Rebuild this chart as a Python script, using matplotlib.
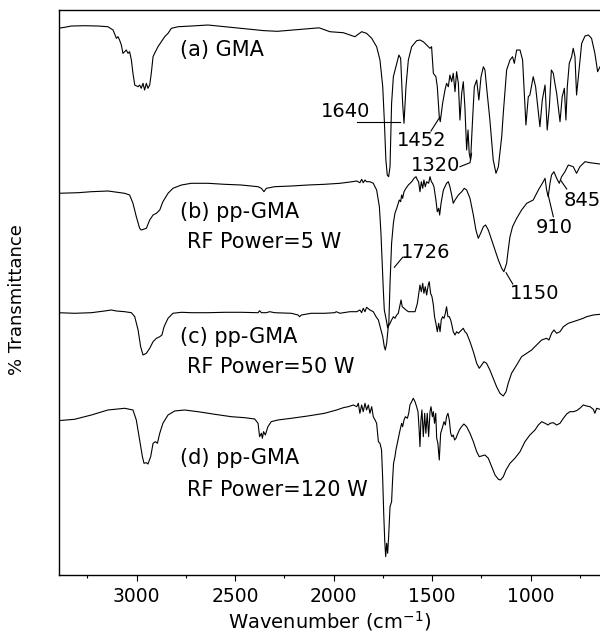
import numpy as np
import matplotlib.pyplot as plt

# FTIR spectra of GMA monomer and plasma polymerized GMA films (offset, a.u.)
wn_a = [3400, 3366, 3332, 3264, 3196, 3146, 3120, 3103, 3095, 3087, 3078, 3070, 3061, 3053, 3044, 3036,
        3027, 3019, 3010, 2993, 2985, 2977, 2968, 2960, 2951, 2943, 2934, 2926, 2917, 2909, 2892, 2875,
        2858, 2841, 2824, 2790, 2723, 2638, 2497, 2356, 2286, 2180, 2074, 2019, 1951, 1917, 1892, 1858,
        1833, 1807, 1782, 1765, 1751, 1743, 1735, 1728, 1721, 1714, 1706, 1697, 1680, 1669, 1660, 1650,
        1643, 1633, 1621, 1604, 1579, 1562, 1545, 1528, 1511, 1503, 1494, 1481, 1474, 1464, 1459, 1447,
        1435, 1427, 1418, 1410, 1401, 1393, 1384, 1376, 1367, 1359, 1350, 1342, 1334, 1325, 1318, 1312,
        1305, 1295, 1286, 1274, 1263, 1252, 1240, 1232, 1224, 1207, 1190, 1176, 1164, 1147, 1139, 1122,
        1105, 1092, 1083, 1071, 1054, 1041, 1034, 1024, 1012, 1004, 987, 975, 966, 953, 941, 927,
        916, 905, 895, 885, 877, 868, 851, 840, 829, 821, 814, 804, 792, 784, 775, 767,
        753, 741, 724, 707, 691, 674, 660, 648]
t_a = [546.7, 547.7, 549, 549.3, 549, 548.3, 545, 536.7, 538.3, 535, 530, 521.7, 523.3, 525, 521.7, 523.3,
       515, 501.7, 490, 488.3, 490, 486.7, 491.7, 485, 491.7, 486.7, 490, 501.7, 518.3, 521.7, 528.3, 533.3,
       538.3, 541.7, 546.7, 548.3, 549, 550, 547.2, 544.4, 543.7, 545.5, 547.2, 543.3, 542.3, 540, 538.3, 543.3,
       541.7, 536.7, 528.3, 515, 488.3, 455, 415, 400, 398.3, 408.3, 471.7, 498.3, 511.7, 520, 516.7, 471.7,
       451.7, 488.3, 515, 528.3, 534.3, 535, 533.3, 530, 526.7, 528.3, 501.7, 498.3, 488.3, 458.3, 453.3, 471.7,
       485, 491.7, 488.3, 500, 493.3, 501.7, 483.3, 503.3, 491.7, 455, 481.7, 493.3, 468.3, 425, 445, 421.7,
       415, 455, 488.3, 495, 475, 498.3, 508.3, 505, 488.3, 455, 415, 401.7, 408.3, 438.3, 461.7, 505,
       515, 518.3, 511.7, 525, 525, 515, 488.3, 450, 478.3, 480, 498.3, 488.3, 471.7, 448.3, 475, 490,
       445, 468.3, 505, 501.7, 491.7, 481.7, 453.3, 478.3, 486.7, 455, 488.3, 511.7, 518.3, 526.7, 518.3, 480,
       508.3, 531.7, 539, 540, 536.7, 521.7, 503.3, 508.3]

wn_b = [3400, 3298, 3230, 3146, 3061, 3036, 3019, 3002, 2985, 2977, 2951, 2934, 2917, 2900, 2883, 2867,
        2841, 2816, 2773, 2723, 2638, 2554, 2469, 2384, 2367, 2354, 2342, 2300, 2215, 2131, 2046, 1968,
        1917, 1883, 1867, 1858, 1850, 1841, 1833, 1816, 1799, 1782, 1768, 1760, 1753, 1748, 1743, 1733,
        1726, 1720, 1714, 1706, 1697, 1689, 1680, 1672, 1667, 1660, 1655, 1650, 1643, 1633, 1621, 1604,
        1592, 1582, 1575, 1569, 1562, 1555, 1548, 1542, 1535, 1528, 1518, 1511, 1504, 1498, 1491, 1481,
        1474, 1467, 1462, 1455, 1443, 1427, 1418, 1410, 1401, 1393, 1384, 1367, 1350, 1337, 1325, 1308,
        1291, 1278, 1266, 1254, 1240, 1229, 1215, 1198, 1181, 1164, 1147, 1136, 1122, 1114, 1105, 1092,
        1071, 1046, 1020, 1004, 987, 961, 936, 927, 919, 911, 902, 894, 882, 868, 855, 843,
        826, 809, 784, 767, 750, 724, 699, 674, 648]
t_b = [381.7, 382.3, 383.3, 384, 381.7, 380, 371.7, 358.3, 346.7, 345, 346.7, 355, 360, 361.7, 365, 373.3,
       381.7, 386.7, 390, 391.7, 391.7, 390.7, 390, 388.3, 386.7, 383.3, 386.7, 388.3, 389, 390, 390.7, 391.7,
       393, 394, 392.3, 395.7, 392.3, 395, 393.3, 393.3, 391.7, 385, 368.3, 341.7, 308.3, 285, 265, 255,
       247, 252, 291.7, 331.7, 351.7, 361.7, 366.7, 371.7, 375, 373.3, 380, 376.7, 383.3, 386.7, 390, 393.3,
       396.7, 398.3, 395, 393.3, 383.3, 393.3, 386.7, 395, 388.3, 393.3, 391.7, 398.3, 393.3, 391.7, 388.3, 375,
       363.3, 366.7, 360, 371.7, 385, 391.7, 393.3, 388.3, 380, 371.7, 375, 380, 383.3, 386.7, 385, 376.7,
       360, 345, 336.7, 341.7, 348.3, 350, 345, 335, 325, 315, 306.7, 303.3, 311.7, 325, 338.3, 348.3,
       356.7, 365, 371.7, 373.3, 375, 385, 393.3, 396.7, 385, 378.3, 391.7, 400, 403.3, 396.7, 391.7, 398.3,
       403.3, 410, 408.3, 401.7, 408.3, 413.3, 412.3, 411.7, 411]

wn_c = [3400, 3315, 3230, 3163, 3129, 3103, 3061, 3027, 3010, 2993, 2980, 2968, 2951, 2934, 2917, 2900,
        2883, 2872, 2861, 2841, 2816, 2773, 2723, 2638, 2554, 2469, 2384, 2376, 2367, 2342, 2325, 2300,
        2215, 2181, 2173, 2164, 2114, 2046, 1995, 1987, 1968, 1951, 1917, 1883, 1867, 1858, 1850, 1841,
        1833, 1816, 1799, 1785, 1773, 1762, 1751, 1743, 1738, 1731, 1723, 1714, 1706, 1697, 1689, 1680,
        1672, 1663, 1658, 1652, 1643, 1633, 1621, 1604, 1587, 1575, 1569, 1562, 1555, 1548, 1542, 1535,
        1528, 1520, 1515, 1508, 1501, 1494, 1488, 1481, 1474, 1467, 1460, 1454, 1447, 1440, 1433, 1427,
        1420, 1413, 1406, 1400, 1393, 1384, 1376, 1367, 1359, 1350, 1342, 1334, 1325, 1308, 1291, 1274,
        1261, 1249, 1237, 1224, 1207, 1190, 1173, 1156, 1139, 1125, 1114, 1097, 1071, 1046, 1020, 995,
        970, 944, 919, 907, 894, 882, 868, 851, 834, 809, 784, 758, 733, 716, 682, 648]
t_c = [262.3, 261.7, 262.3, 264, 265, 264, 263.3, 262.3, 258.3, 245, 228.3, 220, 221.7, 226.7, 233.3, 236.7,
       238.3, 240, 248.3, 256.7, 261.7, 262.7, 262.3, 262.3, 262.7, 262.7, 262.3, 264.3, 262.3, 262.3, 263.3, 262.3,
       261.7, 260, 258.3, 260, 261.7, 261.7, 262.3, 263.3, 261.7, 262.3, 263.3, 263.3, 265, 262.3, 266.7, 263.3,
       267.7, 265, 263.3, 258.3, 255, 246.7, 238.3, 228.3, 225, 231.7, 248.3, 251.7, 255, 258.3, 256.7, 260,
       261.7, 270, 275, 268.3, 266.7, 265, 263.3, 263.3, 263.3, 271.7, 280, 290, 283.3, 291.7, 281.7, 288.3,
       280, 290, 293.3, 281.7, 278.3, 270, 258.3, 251.7, 243.3, 251.7, 243.3, 255, 258.3, 256.7, 261.7, 268.3,
       258.3, 258.3, 255, 250, 243.3, 240, 243.3, 241.7, 243.3, 245, 246.7, 243.3, 241.7, 233.3, 223.3, 211.7,
       206.7, 210, 213.3, 211.7, 205, 196.7, 188.3, 181.7, 179, 183.3, 191.7, 201.7, 210, 218.3, 221.7, 225,
       230, 235, 236.7, 235, 241.7, 245, 241.7, 243.3, 248.3, 251.7, 253.3, 255, 256.7, 258.3, 260, 260.7]

wn_d = [3400, 3315, 3230, 3146, 3061, 3019, 3002, 2985, 2971, 2963, 2951, 2943, 2929, 2917, 2905, 2895,
        2883, 2867, 2841, 2807, 2757, 2689, 2604, 2520, 2452, 2401, 2384, 2376, 2367, 2362, 2356, 2347,
        2334, 2317, 2283, 2215, 2131, 2046, 1985, 1951, 1926, 1900, 1883, 1875, 1867, 1858, 1850, 1841,
        1833, 1824, 1816, 1807, 1799, 1790, 1782, 1773, 1765, 1757, 1751, 1746, 1741, 1736, 1731, 1726,
        1721, 1714, 1706, 1701, 1696, 1689, 1684, 1677, 1670, 1663, 1655, 1650, 1643, 1636, 1626, 1619,
        1613, 1604, 1596, 1587, 1579, 1572, 1567, 1562, 1557, 1552, 1545, 1538, 1532, 1525, 1518, 1511,
        1506, 1499, 1494, 1488, 1482, 1477, 1471, 1464, 1457, 1449, 1440, 1433, 1427, 1420, 1413, 1406,
        1400, 1393, 1386, 1379, 1373, 1362, 1351, 1339, 1325, 1308, 1291, 1274, 1261, 1249, 1232, 1215,
        1198, 1181, 1164, 1153, 1139, 1125, 1105, 1080, 1054, 1029, 1004, 978, 961, 944, 927, 911,
        902, 885, 868, 851, 834, 817, 801, 784, 767, 750, 733, 716, 699, 682, 674, 665, 648]
t_d = [154.3, 155.7, 160, 165, 166.7, 165, 155, 135, 118.3, 111.7, 112.3, 111, 118.3, 131.7, 133.3, 131.7,
       141.7, 151.7, 160, 164, 165, 163.3, 160.7, 158.3, 157.3, 156, 151.7, 138.3, 141.7, 136.7, 143.3, 140,
       148.3, 153.3, 155, 156.7, 159, 161.7, 165, 167.3, 168.3, 170, 168.3, 171.7, 161.7, 170, 163.3, 171.7,
       165, 170, 161.7, 168.3, 158.3, 155, 151.7, 133.3, 131.7, 125, 95, 61.7, 35, 18.3, 31.7, 21.7,
       38.3, 68.3, 73.3, 95, 111.7, 118.3, 125, 131.7, 138.3, 145, 151.7, 148.3, 155, 158.3, 156.7, 161.7,
       170, 173.3, 176.7, 173.3, 168.3, 163.3, 148.3, 128.3, 155, 165, 138.3, 161.7, 141.7, 161.7, 138.3, 163.3,
       168.3, 158.3, 163.3, 151.7, 161.7, 136.7, 131.7, 115, 141.7, 146.7, 153.3, 150, 158.3, 161.7, 155, 141.7,
       138.3, 140, 135, 136.7, 140, 145, 148.3, 151, 148.3, 141.7, 133.3, 123.3, 118.3, 119, 120, 116.7,
       108.3, 100, 95.7, 95, 98.3, 105, 111.7, 116.7, 123.3, 133.3, 140, 145, 150, 153.3, 151.7, 150,
       151.7, 152.3, 150, 151.7, 156.7, 161, 163.3, 163.3, 164.3, 166.7, 170, 169, 168.3, 165.7, 161.7, 166.7, 165.7]

# sample labels: (line 1, line 2, height of line 1, height of line 2)
sample_labels = [("(a) GMA", None, 525, None),
                 ("(b) pp-GMA", "RF Power=5 W", 363, 333),
                 ("(c) pp-GMA", "RF Power=50 W", 238, 208),
                 ("(d) pp-GMA", "RF Power=120 W", 117, 85)]

# peak annotations: text, text position, leader line points
peak_labels = [("1640", (1940, 464), [(1882, 453), (1664, 453)]),
               ("1452", (1553, 434.5), [(1506, 444), (1460, 458.3)]),
               ("1320", (1481, 409.5), [(1359, 408.3), (1308, 412.3), (1300, 421.7)]),
               ("1726", (1532, 322.5), [(1692, 307.7), (1650, 317.7)]),
               ("1150", (981, 281), [(1125, 302.3), (1091, 291)]),
               ("910", (882, 347.5), [(911, 380), (885, 358.3)]),
               ("845", (740, 374.3), [(846, 394.3), (817, 386)])]

fig = plt.figure(figsize=(6, 6.34), dpi=100)
ax = fig.add_axes([0.0975, 0.0931, 0.9025, 0.8911])

for wn, t in [(wn_a, t_a), (wn_b, t_b), (wn_c, t_c), (wn_d, t_d)]:
    ax.plot(wn, t, color='black', lw=0.8)

for line1, line2, y1, y2 in sample_labels:
    ax.text(2780, y1, line1, fontsize=15, ha='left', va='center')
    if line2:
        ax.text(2745, y2, line2, fontsize=15, ha='left', va='center')

for label, (tx, ty), pts in peak_labels:
    ax.text(tx, ty, label, fontsize=14, ha='center', va='center')
    px, py = zip(*pts)
    ax.plot(px, py, color='black', lw=0.8)

ax.set_xlim(3397, 648)
ax.set_ylim(0, 565)
ax.set_xticks([3000, 2500, 2000, 1500, 1000])
ax.set_xticks(np.arange(3250, 600, -500), minor=True)
ax.tick_params(axis='x', which='major', direction='out', length=4, width=0.8, labelsize=13.5, pad=5)
ax.tick_params(axis='x', which='minor', direction='out', length=2.5, width=0.8)
ax.tick_params(axis='y', left=False, labelleft=False)
ax.spines['right'].set_visible(False)
for s in ['left', 'top', 'bottom']:
    ax.spines[s].set_linewidth(1.0)

ax.set_xlabel('Wavenumber (cm$^{-1}$)', fontsize=14, labelpad=2)
fig.text(17 / 600, 1 - 300 / 634, '% Transmittance', fontsize=13, rotation=90,
         ha='center', va='center')

fig.savefig('out.png', dpi=100)
